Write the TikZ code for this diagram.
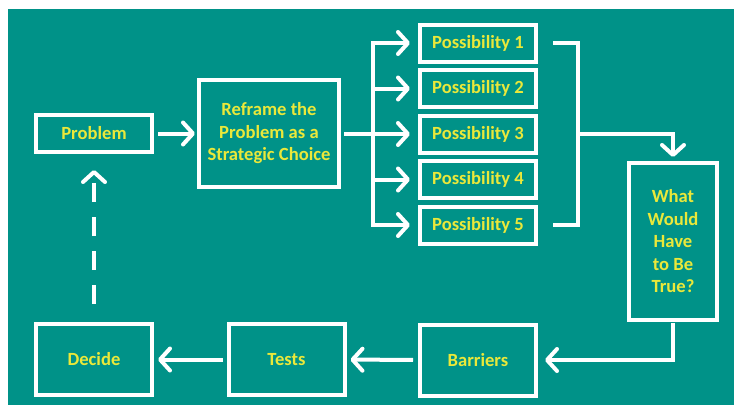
\documentclass[tikz,border=0pt]{standalone}
\usepackage{fontspec}
\setmainfont{Carlito}
\usetikzlibrary{arrows.meta}
\definecolor{tealbg}{RGB}{0,146,136}
\definecolor{boxtext}{RGB}{234,232,58}

\begin{document}
\begin{tikzpicture}[x=1pt,y=-1pt]
                        \tikzstyle{stage}=[draw=white, line width=4pt, text=boxtext, font=\bfseries\fontsize{18.6}{22.5}\selectfont, align=center, inner sep=0pt]
                        \tikzstyle{small}=[minimum width=116pt, minimum height=37pt]
                        \tikzstyle{low}=[minimum width=116pt, minimum height=71pt]
                        \tikzstyle{wire}=[draw=white, line width=4pt]
                        \tikzstyle{link}=[wire, -{Straight Barb[length=10pt,width=22pt,round]}, shorten <=4pt, shorten >=4pt]
                        \useasboundingbox (0,0) rectangle (734,405);
                        \fill[tealbg] (8,9) rectangle (734,405);
                        \node[stage, small] (problem) at (94,133.5) {Problem};
                        \node[stage, minimum width=140pt, minimum height=107pt] (reframe) at (269,133.5) {Reframe the\\Problem as a\\Strategic Choice};
                        \foreach \i in {1,...,5}
                            \node[stage, small] (poss\i) at (478,{43+45.5*(\i-1)}) {Possibility \i};
                        \node[stage, minimum width=88pt, minimum height=157pt] (truth) at (673,241.5) {What\\Would\\Have\\to Be\\True?};
                        \node[stage, low] (barriers) at (478,360) {Barriers};
                        \node[stage, low] (tests) at (286.5,359.5) {Tests};
                        \node[stage, low] (decide) at (94,359.5) {Decide};
                        \coordinate (fork) at (373,133.5);
                        \coordinate (join) at (578,133.5);
                        \draw[link, shorten >=2pt] (problem) -- (reframe);
                        \draw[wire, shorten <=3pt] (reframe.east) -- (fork);
                        \draw[wire, line cap=rect] (fork |- poss1) -- (fork |- poss5);
                        \foreach \i in {1,...,5}
                            \draw[link, shorten <=0pt, shorten >=8pt] (fork |- poss\i) -- (poss\i.west);
                        \draw[wire] ([xshift=15pt]poss1.east) -| (join) |- ([xshift=15pt]poss5.east);
                        \draw[link, shorten <=0pt] (join) -| (truth.north);
                        \draw[link, shorten <=1pt, shorten >=7pt] (truth.south) |- (barriers.east);
                        \draw[link, shorten <=5pt] (barriers) -- (tests);
                        \draw[link] (tests) -- (decide);
                        \draw[link, dash pattern=on 19pt off 15pt, shorten <=18pt, shorten >=16pt] (decide) -- (problem);
                    \end{tikzpicture}
\end{document}
